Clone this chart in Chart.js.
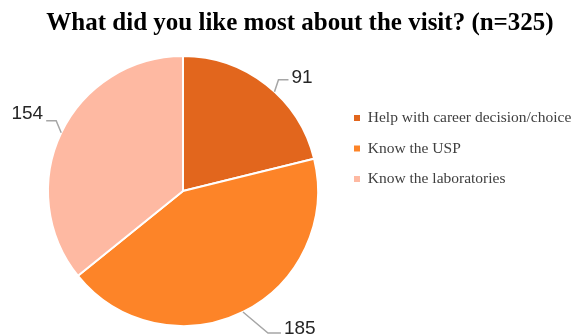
<!DOCTYPE html>
<html>
<head>
<meta charset="utf-8">
<script src="https://cdn.jsdelivr.net/npm/chart.js@4/dist/chart.umd.min.js"></script>
<style>
  html, body { margin: 0; padding: 0; background: #fff; }
  #wrap { width: 573px; height: 335px; }
</style>
</head>
<body>
<div id="wrap"><canvas id="chart" width="573" height="335"></canvas></div>
<script>
const categories = ['Help with career decision/choice', 'Know the USP', 'Know the laboratories'];
const counts = [91, 185, 154];
const colors = ['#E2661D', '#FD8428', '#FEB9A2'];
const titleText = 'What did you like most about the visit? (n=325)';

// leader line shape per slice: anchor fraction along the arc, elbow offset, tail length, text y shift
const leaders = [
    { frac: 0.56, ex: 4, ey: -12, tail: 10, ty: -2 },
    { frac: 0.5, ex: 25, ey: 21, tail: 13, ty: -4 },
    { frac: 0.5, ex: -5, ey: -12, tail: -10, ty: -7 }
];

const leaderLabels = {
    id: 'leaderLabels',
    afterDatasetsDraw(chart) {
        const ctx = chart.ctx;
        const meta = chart.getDatasetMeta(0);
        ctx.save();
        ctx.font = '19px "Liberation Sans", Arial, sans-serif';
        ctx.textBaseline = 'middle';
        meta.data.forEach((arc, i) => {
            const { x, y, startAngle, endAngle, outerRadius } = arc.getProps(['x', 'y', 'startAngle', 'endAngle', 'outerRadius'], true);
            const l = leaders[i];
            const a = startAngle + (endAngle - startAngle) * l.frac;
            const x0 = x + Math.cos(a) * outerRadius;
            const y0 = y + Math.sin(a) * outerRadius;
            const x1 = x0 + l.ex, y1 = y0 + l.ey;
            const x2 = x1 + l.tail;
            ctx.strokeStyle = '#A6A6A6';
            ctx.lineWidth = 1.5;
            ctx.beginPath();
            ctx.moveTo(x0, y0);
            ctx.lineTo(x1, y1);
            ctx.lineTo(x2, y1);
            ctx.stroke();
            const right = l.tail >= 0;
            ctx.fillStyle = '#262626';
            ctx.textAlign = right ? 'left' : 'right';
            ctx.fillText(String(counts[i]), x2 + (right ? 3 : -3), y1 + l.ty);
        });
        ctx.restore();
    }
};

new Chart(document.getElementById('chart'), {
    type: 'pie',
    data: {
        labels: categories,
        datasets: [{
            data: counts,
            backgroundColor: colors,
            borderColor: '#ffffff',
            borderWidth: 2
        }]
    },
    options: {
        responsive: false,
        animation: false,
        layout: { padding: { left: 27, right: 0, top: 0, bottom: 8 } },
        plugins: {
            tooltip: { enabled: false },
            title: {
                display: true,
                text: titleText,
                color: '#000000',
                font: { family: '"Liberation Serif", "Times New Roman", serif', size: 25, weight: 'bold' },
                padding: { top: 9, bottom: 16 }
            },
            legend: {
                position: 'right',
                align: 'start',
                maxWidth: 234,
                title: {
                    display: true,
                    text: ' ',
                    font: { size: 15 },
                    padding: { top: 10, bottom: 67.25 }
                },
                labels: {
                    boxWidth: 6,
                    boxHeight: 6,
                    padding: 15,
                    color: '#404040',
                    font: { family: '"Liberation Serif", "Times New Roman", serif', size: 15.5 },
                    generateLabels: (chart) => Chart.overrides.pie.plugins.legend.labels
                        .generateLabels(chart).map(item => ({ ...item, lineWidth: 0 }))
                }
            }
        }
    },
    plugins: [leaderLabels]
});
</script>
</body>
</html>
